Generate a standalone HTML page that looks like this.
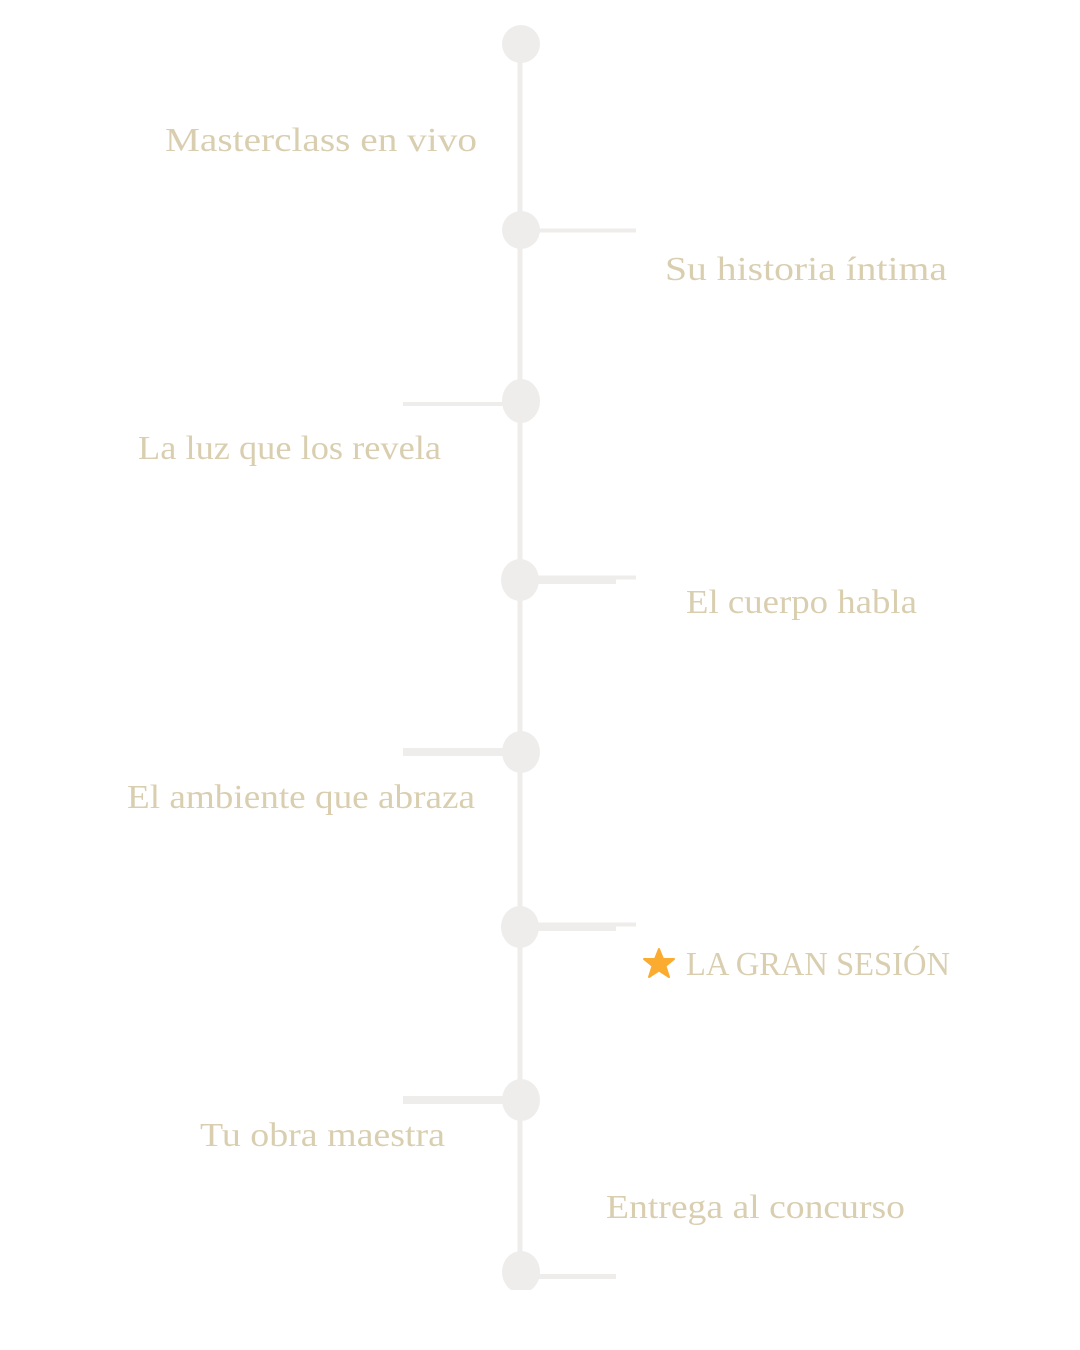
<!DOCTYPE html>
<html><head><meta charset="utf-8"><style>html,body{margin:0;padding:0;background:#fff}svg{display:block}</style></head>
<body>
<svg width="1080" height="1350" viewBox="0 0 1080 1350" xmlns="http://www.w3.org/2000/svg">
<defs><clipPath id="c"><rect x="0" y="0" width="1080" height="1290"/></clipPath></defs>
<g clip-path="url(#c)" fill="#efedeb" stroke="none">
<rect x="517.5" y="44" width="5" height="1240"/>
<rect x="520" y="228.5" width="116" height="4"/>
<rect x="403" y="402" width="117" height="4"/>
<rect x="520" y="575.5" width="116" height="4"/>
<rect x="520" y="579" width="96" height="5"/>
<rect x="403" y="748" width="117" height="8"/>
<rect x="520" y="922.5" width="116" height="4"/>
<rect x="520" y="926" width="96" height="5"/>
<rect x="403" y="1096" width="117" height="8"/>
<rect x="520" y="1274" width="96" height="5"/>
<circle cx="521" cy="44" r="19"/>
<circle cx="521" cy="230" r="19"/>
<ellipse cx="521" cy="401" rx="19" ry="22"/>
<ellipse cx="520" cy="580" rx="19" ry="21"/>
<ellipse cx="521" cy="752" rx="19" ry="21"/>
<ellipse cx="520" cy="927" rx="19" ry="21"/>
<ellipse cx="521" cy="1100" rx="19" ry="21"/>
<ellipse cx="521" cy="1272" rx="19" ry="21"/>
</g>
<g font-family="'Liberation Serif', serif" font-size="34" fill="#d9cfb0">
<text x="165" y="151" textLength="312" lengthAdjust="spacingAndGlyphs">Masterclass en vivo</text>
<text x="665" y="280" textLength="282" lengthAdjust="spacingAndGlyphs">Su historia íntima</text>
<text x="138" y="459" textLength="303" lengthAdjust="spacingAndGlyphs">La luz que los revela</text>
<text x="686" y="613" textLength="231" lengthAdjust="spacingAndGlyphs">El cuerpo habla</text>
<text x="127" y="808" textLength="348" lengthAdjust="spacingAndGlyphs">El ambiente que abraza</text>
<text x="686" y="975" textLength="264" lengthAdjust="spacingAndGlyphs">LA GRAN SESIÓN</text>
<text x="200" y="1146" textLength="245" lengthAdjust="spacingAndGlyphs">Tu obra maestra</text>
<text x="606" y="1218" textLength="299" lengthAdjust="spacingAndGlyphs">Entrega al concurso</text>
</g>
<polygon fill="#fbab30" stroke="#fbab30" stroke-width="2" stroke-linejoin="round" points="659,949 663,959 674,959 665.5,966 669,977 659,970.5 649,977 652.5,966 644,959 655,959"/>
</svg>
</body></html>
